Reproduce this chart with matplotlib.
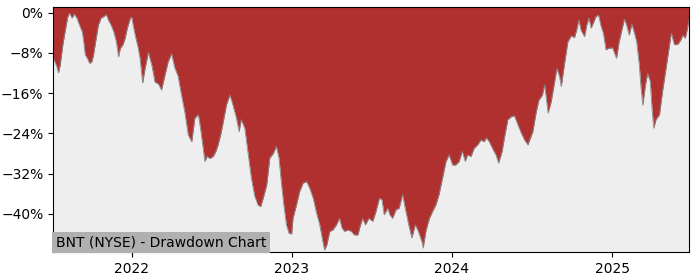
import numpy as np
import pandas as pd
import matplotlib
matplotlib.use("Agg")
import matplotlib.pyplot as plt
import matplotlib.dates as mdates
from matplotlib.ticker import FuncFormatter, MultipleLocator

# drawdown (date, % below the running peak)
dates = [
    "2021-07-06", "2021-07-14", "2021-07-18", "2021-07-22", "2021-07-28", "2021-08-02",
    "2021-08-08", "2021-08-12", "2021-08-18", "2021-08-23", "2021-08-29", "2021-09-04",
    "2021-09-10", "2021-09-13", "2021-09-17", "2021-09-22", "2021-09-27", "2021-10-02",
    "2021-10-06", "2021-10-12", "2021-10-17", "2021-10-23", "2021-10-29", "2021-11-04",
    "2021-11-09", "2021-11-15", "2021-11-21", "2021-11-27", "2021-12-02", "2021-12-06",
    "2021-12-12", "2021-12-17", "2021-12-22", "2021-12-29", "2022-01-01", "2022-01-05",
    "2022-01-09", "2022-01-16", "2022-01-20", "2022-01-26", "2022-01-31", "2022-02-08",
    "2022-02-16", "2022-02-23", "2022-03-03", "2022-03-10", "2022-03-18", "2022-03-25",
    "2022-04-02", "2022-04-09", "2022-04-17", "2022-04-25", "2022-05-02", "2022-05-10",
    "2022-05-18", "2022-05-25", "2022-06-02", "2022-06-07", "2022-06-12", "2022-06-17",
    "2022-06-22", "2022-06-28", "2022-07-06", "2022-07-12", "2022-07-17", "2022-07-23",
    "2022-07-29", "2022-08-05", "2022-08-13", "2022-08-20", "2022-08-28", "2022-09-03",
    "2022-09-08", "2022-09-16", "2022-09-23", "2022-10-01", "2022-10-09", "2022-10-16",
    "2022-10-22", "2022-10-28", "2022-11-05", "2022-11-12", "2022-11-20", "2022-11-27",
    "2022-12-03", "2022-12-09", "2022-12-14", "2022-12-20", "2022-12-26", "2023-01-01",
    "2023-01-04", "2023-01-12", "2023-01-19", "2023-01-27", "2023-02-04", "2023-02-11",
    "2023-02-19", "2023-02-26", "2023-03-06", "2023-03-13", "2023-03-17", "2023-03-22",
    "2023-03-29", "2023-04-05", "2023-04-13", "2023-04-20", "2023-04-26", "2023-05-02",
    "2023-05-09", "2023-05-17", "2023-05-24", "2023-06-01", "2023-06-06", "2023-06-12",
    "2023-06-18", "2023-06-26", "2023-07-05", "2023-07-12", "2023-07-20", "2023-07-26",
    "2023-07-31", "2023-08-08", "2023-08-13", "2023-08-19", "2023-08-27", "2023-09-03",
    "2023-09-11", "2023-09-17", "2023-09-25", "2023-10-02", "2023-10-10", "2023-10-17",
    "2023-10-25", "2023-10-28", "2023-11-03", "2023-11-11", "2023-11-18", "2023-11-26",
    "2023-12-03", "2023-12-11", "2023-12-19", "2023-12-26", "2024-01-03", "2024-01-10",
    "2024-01-18", "2024-01-25", "2024-02-01", "2024-02-06", "2024-02-14", "2024-02-21",
    "2024-02-29", "2024-03-08", "2024-03-15", "2024-03-20", "2024-03-27", "2024-04-03",
    "2024-04-11", "2024-04-17", "2024-04-25", "2024-04-30", "2024-05-08", "2024-05-16",
    "2024-05-23", "2024-05-31", "2024-06-08", "2024-06-15", "2024-06-23", "2024-06-27",
    "2024-07-04", "2024-07-12", "2024-07-18", "2024-07-26", "2024-07-31", "2024-08-08",
    "2024-08-15", "2024-08-23", "2024-08-28", "2024-09-03", "2024-09-07", "2024-09-14",
    "2024-09-22", "2024-09-30", "2024-10-07", "2024-10-12", "2024-10-17", "2024-10-22",
    "2024-10-30", "2024-11-04", "2024-11-09", "2024-11-14", "2024-11-19", "2024-11-25",
    "2024-12-01", "2024-12-07", "2024-12-12", "2024-12-18", "2024-12-24", "2025-01-02",
    "2025-01-11", "2025-01-17", "2025-01-25", "2025-01-29", "2025-02-03", "2025-02-09",
    "2025-02-15", "2025-02-20", "2025-02-26", "2025-03-04", "2025-03-08", "2025-03-12",
    "2025-03-18", "2025-03-23", "2025-03-29", "2025-04-02", "2025-04-06", "2025-04-11",
    "2025-04-19", "2025-04-26", "2025-05-04", "2025-05-12", "2025-05-16", "2025-05-23",
    "2025-05-31", "2025-06-07", "2025-06-11", "2025-06-17", "2025-06-22", "2025-06-25",
]
drawdown = [
    -9.0, -10.7, -12.0, -10.4, -6.4, -3.8,
    -0.9, -0.1, -1.1, -0.3, -1.1, -2.5,
    -3.8, -5.4, -8.4, -9.1, -10.1, -9.8,
    -8.4, -5.1, -2.5, -1.1, -0.8, -0.4,
    -1.5, -2.5, -3.8, -5.8, -8.8, -7.1,
    -6.4, -5.1, -3.1, -1.1, -0.9, -2.8,
    -4.5, -7.1, -9.1, -14.0, -11.4, -7.9,
    -10.5, -13.8, -14.2, -15.4, -12.4, -9.8,
    -8.2, -10.9, -12.7, -16.6, -19.7, -24.3,
    -25.7, -21.0, -20.3, -23.0, -26.3, -29.6,
    -28.6, -29.0, -28.6, -27.6, -26.3, -24.3,
    -21.7, -18.4, -16.4, -18.4, -21.0, -23.7,
    -21.3, -23.0, -27.6, -32.9, -36.6, -38.2,
    -38.6, -36.9, -34.3, -28.9, -28.0, -26.6,
    -28.9, -34.3, -38.2, -42.2, -43.9, -44.0,
    -40.9, -38.2, -35.6, -33.9, -33.6, -34.9,
    -36.9, -39.6, -42.2, -45.5, -47.2, -46.2,
    -43.5, -43.2, -42.2, -40.9, -42.9, -43.5,
    -43.2, -43.5, -44.2, -44.2, -42.5, -40.9,
    -42.2, -40.9, -41.5, -39.6, -36.9, -37.2,
    -40.2, -38.9, -40.2, -40.9, -39.2, -38.9,
    -36.2, -38.9, -42.2, -44.8, -42.2, -43.5,
    -45.5, -46.8, -43.5, -40.9, -39.6, -38.2,
    -36.2, -32.9, -29.6, -28.3, -30.3, -30.3,
    -29.6, -27.6, -29.6, -28.3, -28.6, -27.0,
    -26.3, -25.3, -25.7, -24.9, -25.7, -27.0,
    -28.3, -29.9, -27.6, -25.0, -21.3, -20.7,
    -20.5, -22.3, -24.0, -25.3, -26.3, -25.3,
    -23.7, -19.7, -17.4, -16.4, -14.4, -20.0,
    -17.7, -13.7, -11.1, -12.7, -14.7, -10.4,
    -5.8, -4.6, -5.0, -3.5, -1.5, -3.5,
    -4.8, -2.5, -1.1, -3.1, -2.1, -0.8,
    -0.5, -2.8, -4.1, -7.4, -7.1, -7.0,
    -9.1, -5.8, -2.8, -1.3, -2.5, -4.5,
    -2.3, -3.8, -5.8, -10.4, -15.0, -18.4,
    -14.4, -12.1, -13.7, -19.0, -23.0, -21.3,
    -20.3, -15.7, -11.1, -6.4, -4.1, -6.4,
    -6.3, -5.4, -4.5, -5.1, -3.1, -1.5,
]
title = "BNT (NYSE) - Drawdown Chart"


def pct_label(v, pos):
    return f"{v:.0f}%".replace("-", "\u2212")


def main():
    x = pd.to_datetime(dates)
    y = np.array(drawdown)

    fig = plt.figure(figsize=(7, 2.8), dpi=100)
    ax = fig.add_axes([0.076, 0.1, 0.908, 0.875])
    ax.set_facecolor("#eeeeee")

    ymin, ymax = -47.6, 1.1
    # red runs from the top of the frame down to the curve
    ax.fill_between(x, ymax + 1, y, color="#b03030", linewidth=0)
    ax.plot(x, y, color="#888888", linewidth=0.6)

    ax.set_xlim(x[0], x[-1])
    ax.set_ylim(ymin, ymax)
    ax.yaxis.set_major_locator(MultipleLocator(8))
    ax.yaxis.set_major_formatter(FuncFormatter(pct_label))
    ax.xaxis.set_major_locator(mdates.YearLocator())
    ax.xaxis.set_major_formatter(mdates.DateFormatter("%Y"))

    ax.text(0.004, 0.012, title, transform=ax.transAxes, fontsize=10,
            ha="left", va="bottom",
            bbox=dict(facecolor="#b0b0b0", edgecolor="none", pad=2.5))

    fig.savefig("out.png", dpi=100)


if __name__ == '__main__':
    main()
